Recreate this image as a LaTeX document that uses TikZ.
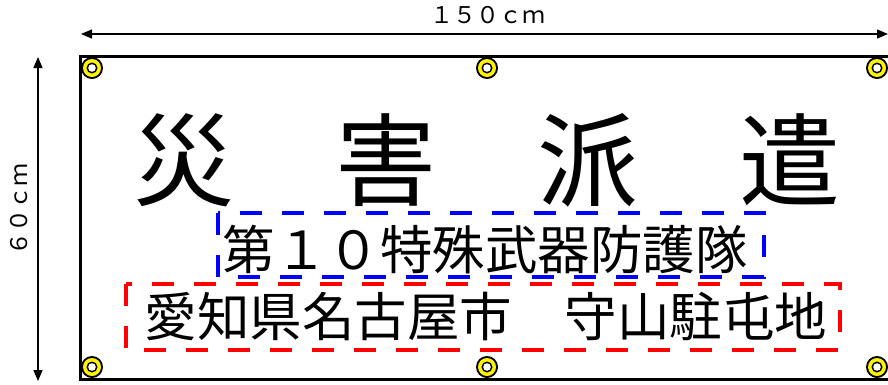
\documentclass[tikz,border=0pt]{standalone}
\usepackage{fontspec}
\newfontfamily\jpfont{Noto Sans CJK JP}
\usetikzlibrary{arrows.meta}
\def\eyelet(#1){\fill[black] (#1) circle (11pt); \fill[yellow] (#1) circle (9pt); \fill[black] (#1) circle (5.5pt); \fill[white] (#1) circle (3.8pt);}

\begin{document}
\begin{tikzpicture}[x=1pt, y=-1pt,
	dimline/.style={line width=1.3pt, {Triangle[length=11pt,width=9pt]}-{Triangle[length=11pt,width=9pt]}},
	frameline/.style={line width=3pt},
	boxline/.style={line width=4pt, dash pattern=on 22pt off 20pt},
	txt/.style={inner sep=0pt, font=\jpfont}]
			%%%%% START %%%%%
			\useasboundingbox (0, 0) rectangle (888, 384);
			
			\draw[frameline] (80, 56) rectangle (891, 379);
			
			\coordinate (wl) at (81, 34);
			\coordinate (wr) at (888, 34);
			\coordinate (ht) at (38, 57);
			\coordinate (hb) at (38, 381);
			\draw[dimline] (wl) -- (wr);
			\draw[dimline] (ht) -- (hb);
			\node[txt, font=\jpfont\fontsize{23}{23}\selectfont] (width) at (488, 15) {１５０ｃｍ};
			\node[txt, rotate=90, font=\jpfont\fontsize{23}{23}\selectfont] (height) at (19, 209) {６０ｃｍ};
			
			\eyelet(92, 68)
			\eyelet(487, 68)
			\eyelet(877, 68)
			\eyelet(92, 367)
			\eyelet(487, 367)
			\eyelet(877, 367)
			
			\node[txt, font=\jpfont\fontsize{101}{101}\selectfont] (title) at (487, 160) {災　害　派　遣};
			
			\draw[boxline, blue] (218, 213) rectangle (764, 277);
			\node[txt, font=\jpfont\fontsize{52.5}{52.5}\selectfont] (unit) at (485, 250) {第１０特殊武器防護隊};
			
			\draw[boxline, red] (126, 284) rectangle (840, 350);
			\node[txt, font=\jpfont\fontsize{52.5}{52.5}\selectfont] (place) at (486, 316) {愛知県名古屋市　守山駐屯地};
			%%%%% END %%%%%
\end{tikzpicture}
\end{document}
